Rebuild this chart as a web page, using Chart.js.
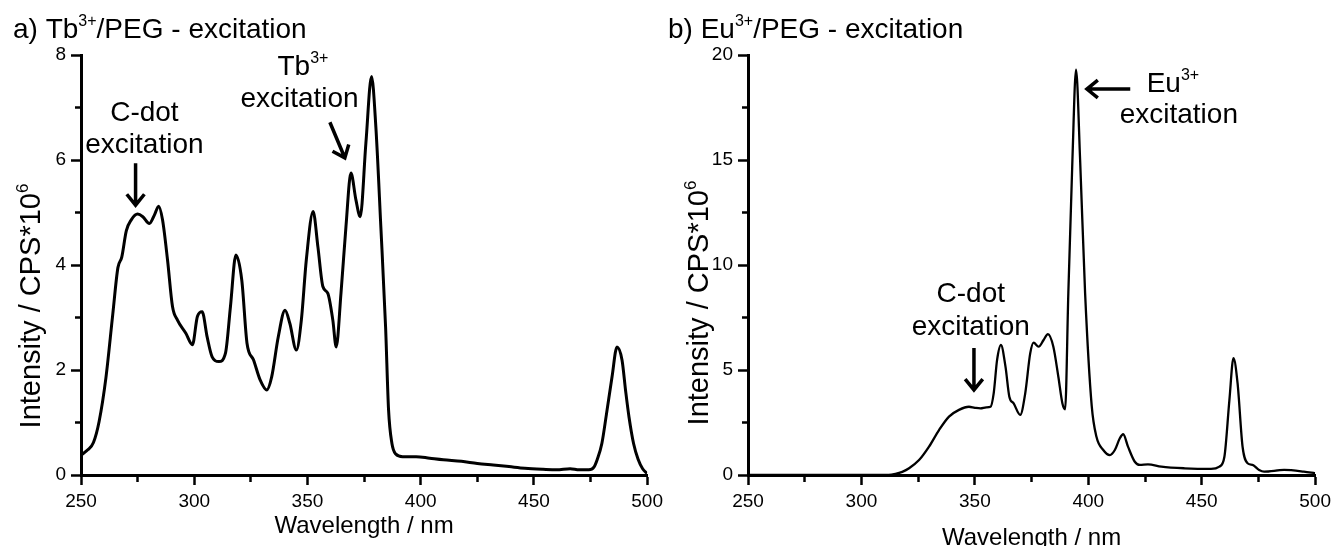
<!DOCTYPE html>
<html><head><meta charset="utf-8">
<script src="https://cdn.jsdelivr.net/npm/chart.js@4.4.1/dist/chart.umd.min.js"></script>
<style>
html,body{margin:0;padding:0;background:#fff;}
#wrap{position:relative;width:1336px;height:546px;overflow:hidden;background:#fff;}
.c{position:absolute;top:0;width:668px;height:546px;}
</style></head><body>
<div id="wrap">
<div class="c" style="left:0"><canvas id="a" width="668" height="546"></canvas></div>
<div class="c" style="left:668px"><canvas id="b" width="668" height="546"></canvas></div>
</div>
<script>
// ---- data ----
const tbWavelength = [250,253,255.5,258,261,264,266.3,268,270,272.2,275,277.3,280.2,282.4,284.3,286,288.2,290.4,292.6,296.3,299.2,301.4,303.5,305.7,307.9,310.9,313.8,316,318.4,321,323.3,326.2,329.1,332,334.2,337.1,340.1,342.2,345.1,347.3,349.5,352.5,354.6,356.8,359,361.2,362.7,364.8,367,369.2,371.4,373.3,375.8,378.3,380.2,382.4,384.5,385.8,387.3,389,392,398,404,410,418,425,432,439,446,454,460,466,470,474.3,476.5,478,480,482,484.5,486.7,488.9,490.5,492,494,496,498,500];
const tbIntensity = [0.38,0.48,0.62,1.02,1.85,3.05,3.95,4.15,4.65,4.86,4.97,4.92,4.79,4.95,5.12,4.86,4.10,3.21,2.95,2.70,2.48,3.02,3.11,2.63,2.25,2.16,2.32,3.21,4.19,3.71,2.51,2.19,1.81,1.62,1.87,2.63,3.14,2.89,2.38,2.95,4.10,5.02,4.35,3.59,3.46,2.95,2.44,3.46,4.73,5.75,5.24,4.92,6.32,7.59,6.63,4.73,2.82,1.25,0.6,0.4,0.35,0.35,0.32,0.29,0.26,0.22,0.19,0.16,0.13,0.11,0.10,0.12,0.10,0.10,0.15,0.30,0.6,1.15,1.87,2.44,2.19,1.6,1.1,0.6,0.3,0.12,0.03];
const euWavelength = [250,280,300,312,315,318,321,325.4,329.8,334.2,338.6,343,347.4,350,352.5,355,356.9,358.3,359.8,361.5,363.5,365.2,367.1,370,372.2,374.4,375.9,378.1,380.3,382.2,384.6,386.8,388.6,389.8,391.2,393,394.6,396.4,398.6,401.5,403.6,406.6,409.5,411.7,413.9,415.4,417.5,420.5,422.7,426.3,432.2,442.4,454.1,457.8,460,462.2,464,465.8,468,470.2,472.4,475.3,477.5,486.3,495,500];
const euIntensity = [0,0,0,0,0.05,0.15,0.32,0.71,1.35,2.14,2.78,3.10,3.25,3.2,3.17,3.22,3.25,3.89,5.48,6.19,5.16,3.73,3.41,2.86,3.89,5.79,6.30,6.11,6.43,6.71,6.11,4.68,3.41,3.13,8.65,15.0,19.3,15.0,8.65,3.3,1.82,1.19,0.95,1.19,1.75,1.94,1.35,0.63,0.48,0.51,0.40,0.32,0.29,0.40,0.87,3.57,5.56,4.37,1.35,0.56,0.48,0.24,0.16,0.24,0.16,0.08];
const xTickLabels = [250,300,350,400,450,500];
const tbYTickLabels = [0,2,4,6,8];
const euYTickLabels = [0,5,10,15,20];

const FONT = '"Liberation Sans", Arial, sans-serif';

function withMinors(majors){
  const out = [];
  for (let i=0;i<majors.length;i++){
    out.push({value:majors[i], major:true});
    if (i<majors.length-1) out.push({value:(majors[i]+majors[i+1])/2, major:false});
  }
  return out;
}

function drawRich(ctx, parts, x, y, size, align){
  const supSize = Math.round(size*0.58), raise = size*0.42;
  let w = 0;
  parts.forEach(p => { ctx.font = (p[1]?supSize:size)+'px '+FONT; w += ctx.measureText(p[0]).width; });
  let cx = align==='center' ? x - w/2 : x;
  ctx.textBaseline = 'alphabetic'; ctx.textAlign = 'left';
  parts.forEach(p => {
    ctx.font = (p[1]?supSize:size)+'px '+FONT;
    ctx.fillText(p[0], cx, p[1] ? y - raise : y);
    cx += ctx.measureText(p[0]).width;
  });
}

function drawArrow(ctx, x1, y1, x2, y2){
  const ang = Math.atan2(y2-y1, x2-x1), L = 14, s = 0.68;
  ctx.beginPath();
  ctx.moveTo(x1,y1); ctx.lineTo(x2 - 1.5*Math.cos(ang), y2 - 1.5*Math.sin(ang));
  ctx.moveTo(x2 - L*Math.cos(ang-s), y2 - L*Math.sin(ang-s));
  ctx.lineTo(x2,y2);
  ctx.lineTo(x2 - L*Math.cos(ang+s), y2 - L*Math.sin(ang+s));
  ctx.stroke();
}

const notesPlugin = {
  id:'notes',
  afterDraw(chart, args, o){
    const ctx = chart.ctx, xs = chart.scales.x, ys = chart.scales.y, ca = chart.chartArea;
    ctx.save();
    ctx.fillStyle = '#000'; ctx.strokeStyle = '#000';
    drawRich(ctx, o.title, o.titleX, 38, 28, 'left');
    drawRich(ctx, [['Wavelength / nm']], (ca.left+ca.right)/2, o.xTitleY, 24, 'center');
    ctx.save();
    ctx.translate(o.yTitleX, o.yTitleY);
    ctx.rotate(-Math.PI/2);
    drawRich(ctx, [['Intensity / CPS*10'],['6',1]], 0, 0, 29, 'center');
    ctx.restore();
    ctx.lineWidth = 3.5; ctx.lineCap = 'butt'; ctx.lineJoin = 'miter';
    o.items.forEach(it => {
      if (it.arrow){
        drawArrow(ctx, xs.getPixelForValue(it.x1), ys.getPixelForValue(it.y1), xs.getPixelForValue(it.x2), ys.getPixelForValue(it.y2));
      } else {
        drawRich(ctx, it.text, xs.getPixelForValue(it.x), ys.getPixelForValue(it.y), 28, 'center');
      }
    });
    ctx.restore();
  }
};

function makeChart(id, wl, inten, yMajors, lineW, padRight, yWidth, notes){
  const yTicks = withMinors(yMajors);
  const xTicks = withMinors(xTickLabels);
  const tickDashX = c => (c.tick && c.tick.major) ? [] : [5, 100];
  const tickDashY = c => (c.tick && c.tick.major) ? [] : [0, 4, 6, 100];
  return new Chart(document.getElementById(id), {
    type:'line',
    data:{ datasets:[{ data: wl.map((w,i)=>({x:w, y:inten[i]})), borderColor:'#000', borderWidth:lineW, pointRadius:0, fill:false, cubicInterpolationMode:'monotone' }]},
    plugins:[notesPlugin],
    options:{
      responsive:false, devicePixelRatio:1, animation:false,
      layout:{ padding:{ left:0, top:55, right:padRight, bottom:0 } },
      plugins:{ legend:{display:false}, tooltip:{enabled:false}, notes },
      scales:{
        x:{ type:'linear', min:250, max:500,
            afterBuildTicks: s => { s.ticks = xTicks.map(t=>({value:t.value, major:t.major})); },
            afterFit: s => { s.height = 71; },
            ticks:{ autoSkip:false, maxRotation:0, padding:5, color:'#000', font:{family:FONT, size:19},
                    callback:(v) => xTickLabels.includes(v) ? String(v) : '' },
            grid:{ drawOnChartArea:false, drawTicks:true, tickLength:10, tickWidth:2.5, tickColor:'#000', tickBorderDash: tickDashX },
            border:{ display:true, color:'#000', width:3 } },
        y:{ type:'linear', min:yMajors[0], max:yMajors[yMajors.length-1],
            afterBuildTicks: s => { s.ticks = yTicks.map(t=>({value:t.value, major:t.major})); },
            afterFit: s => { s.width = yWidth; },
            ticks:{ autoSkip:false, padding:5, color:'#000', font:{family:FONT, size:19},
                    callback:(v) => yMajors.includes(v) ? String(v) : '' },
            grid:{ drawOnChartArea:false, drawTicks:true, tickLength:10, tickWidth:2.5, tickColor:'#000', tickBorderDash: tickDashY },
            border:{ display:true, color:'#000', width:3 } }
      }
    }
  });
}

makeChart('a', tbWavelength, tbIntensity, tbYTickLabels, 3, 16, 81, {
  title:[['a) Tb'],['3+',1],['/PEG - excitation']], titleX:13, xTitleY:533, yTitleX:40, yTitleY:306,
  items:[
    {text:[['C-dot']], x:278, y:6.74},
    {text:[['excitation']], x:278, y:6.13},
    {arrow:true, x1:274.1, y1:5.94, x2:274.1, y2:5.14},
    {text:[['Tb'],['3+',1]], x:348, y:7.62},
    {text:[['excitation']], x:346.5, y:7.01},
    {arrow:true, x1:359.9, y1:6.72, x2:366.5, y2:6.04}
  ]});
makeChart('b', euWavelength, euIntensity, euYTickLabels, 2.3, 18, 80, {
  title:[['b) Eu'],['3+',1],['/PEG - excitation']], titleX:0, xTitleY:545, yTitleX:40, yTitleY:303,
  items:[
    {text:[['C-dot']], x:348.2, y:8.24},
    {text:[['excitation']], x:348.2, y:6.67},
    {arrow:true, x1:349.6, y1:6.05, x2:349.6, y2:4.05},
    {text:[['Eu'],['3+',1]], x:437.3, y:18.24},
    {text:[['excitation']], x:439.9, y:16.76},
    {arrow:true, x1:418.5, y1:18.38, x2:399.4, y2:18.38}
  ]});
</script>
</body></html>
